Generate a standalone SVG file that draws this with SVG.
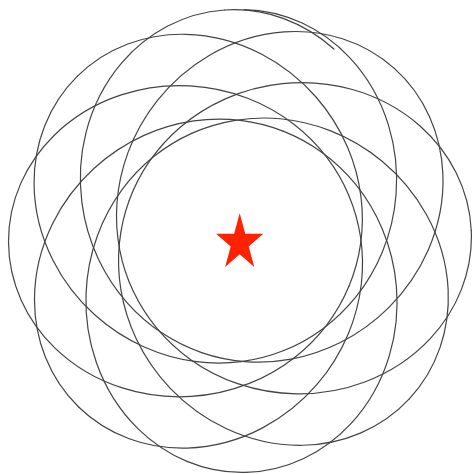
<svg xmlns="http://www.w3.org/2000/svg" width="473" height="474" viewBox="0 0 473 474">
<style>
.orb{fill:none;stroke:#444;stroke-width:1.2;stroke-linecap:round}
.star{fill:#ff2200;stroke:none}
</style>
<defs>
<path id="h" class="orb" d="M118,0 C118,14.57 116.19,29.14 112.44,43.66 C108.69,58.18 103.02,72.63 94.99,86.82 C86.96,101.01 76.55,114.95 63.3,127.89 C50.05,140.83 33.87,152.8 14.52,162.3 C-4.83,171.8 -27.45,178.79 -52.24,180.87 C-77.03,182.95 -104.06,179.95 -129.62,169.94 C-147.6,162.9 -164.77,152.37 -179.29,138.7 C-193.81,125.03 -205.62,108.25 -213.41,89.71"/>
<path id="hb" class="orb" d="M-129.62,169.94 C-147.6,162.9 -164.77,152.37 -179.29,138.7 C-193.81,125.03 -205.62,108.25 -213.41,89.71"/>
<g id="loop"><use href="#h"/><use href="#h" transform="scale(1,-1)"/></g>
</defs>
<rect width="473" height="474" fill="#ffffff"/>
<g id="orbit" class="orb" transform="translate(240,241)">
<use href="#loop" transform="rotate(68.2)"/>
<use href="#loop" transform="rotate(22.6)"/>
<use href="#loop" transform="rotate(337)"/>
<use href="#loop" transform="rotate(291.4)"/>
<use href="#loop" transform="rotate(245.8)"/>
<use href="#loop" transform="rotate(200.2)"/>
<use href="#loop" transform="rotate(154.6)"/>
<use href="#loop" transform="rotate(109)"/>
<use href="#hb" transform="rotate(63.4) scale(1,-1)"/>
</g>
<g id="star">
<polygon class="star" points="239.7,213.3 245.27,233.82 263.29,233.82 248.71,246.51 254.28,267.03 239.7,254.35 225.12,267.03 230.69,246.51 216.11,233.82 234.13,233.82"/>
</g>
</svg>
